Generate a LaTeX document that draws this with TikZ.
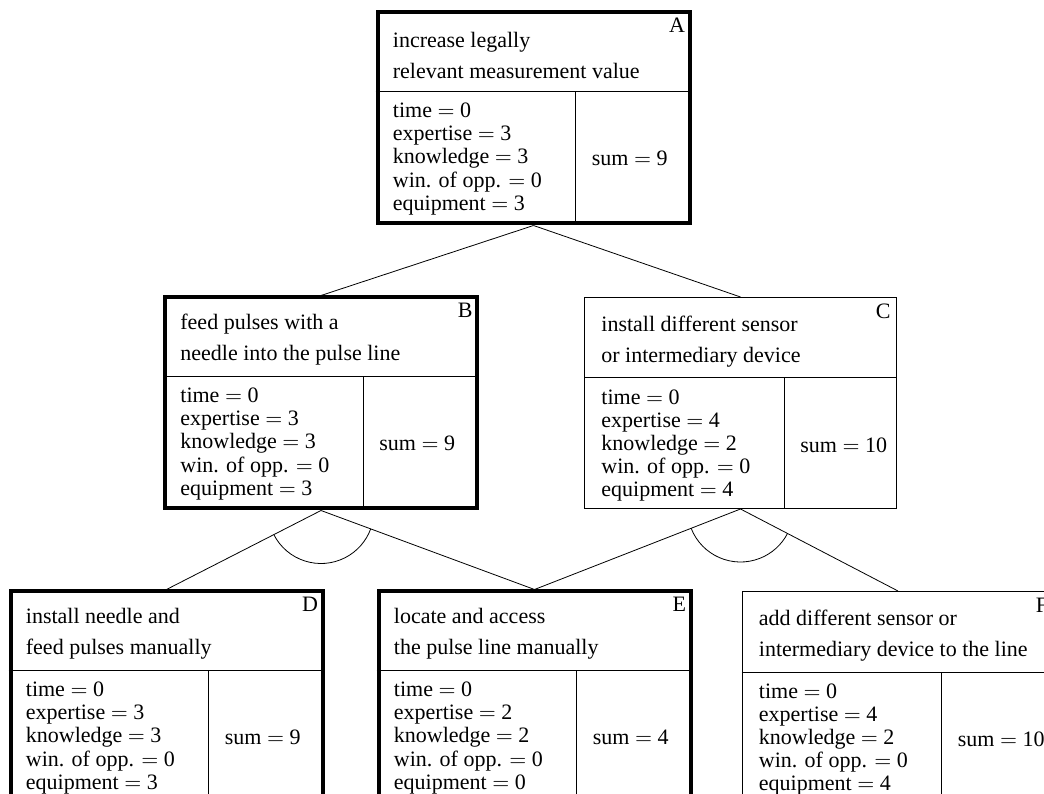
\documentclass[tikz,border=0pt]{standalone}
\usepackage{fontspec}
\setmainfont{Liberation Serif}
\usetikzlibrary{positioning,calc}

\begin{document}
\begin{tikzpicture}[
    x=0.5pt, y=0.5pt,
    goal/.style={draw, minimum width=156pt, minimum height=105.5pt, inner sep=0pt, line width=0.5pt},
    critical/.style={goal, line width=2pt},
    titletext/.style={anchor=west, align=left, inner sep=0pt, font=\fontsize{11}{15.5}\selectfont},
    valtext/.style={anchor=west, align=left, inner sep=0pt, font=\fontsize{11}{11.6}\selectfont},
    sumtext/.style={anchor=west, inner sep=0pt, font=\fontsize{11}{11.6}\selectfont},
    idtext/.style={anchor=north east, inner sep=0pt, font=\fontsize{11}{12}\selectfont},
    divider/.style={line width=0.5pt},
    edge/.style={line width=0.4pt},
    andarc/.style={line width=0.4pt}
]
    \useasboundingbox (0,0) rectangle (1044,793);
    \clip (0,0) rectangle (1044,793);

    % goals
    \node[critical] (A) at (533.5,675) {};
    \node[critical, below=35pt of A, xshift=-106.25pt] (B) {};
    \node[goal, right=52.5pt of B] (C) {};
    \node[critical, below=39.5pt of B, xshift=-77.25pt] (D) {};
    \node[critical, below=39.5pt of B, xshift=106.75pt] (E) {};
    \node[goal, right=24.5pt of E] (F) {};

    % box contents
    \foreach \n/\ttl/\ex/\kn/\eq/\sm in {
        A/{increase legally\\relevant measurement value}/3/3/3/9,
        B/{feed pulses with a\\needle into the pulse line}/3/3/3/9,
        C/{install different sensor\\or intermediary device}/4/2/4/10,
        D/{install needle and\\feed pulses manually}/3/3/3/9,
        E/{locate and access\\the pulse line manually}/2/2/0/4,
        F/{add different sensor or\\intermediary device to the line}/4/2/4/10}
    {
        \draw[divider] ([yshift=-40.5pt]\n.north west) -- ([yshift=-40.5pt]\n.north east);
        \draw[divider] ([xshift=100pt,yshift=-40.5pt]\n.north west) -- ([xshift=100pt]\n.south west);
        \node[titletext] (\n-title) at ([xshift=8.5pt,yshift=-22.25pt]\n.north west) {\ttl};
        \node[valtext] (\n-vals) at ([xshift=8.5pt,yshift=-74.25pt]\n.north west)
            {time $=$ 0\\expertise $=$ \ex\\knowledge $=$ \kn\\win. of opp. $=$ 0\\equipment $=$ \eq};
        \node[sumtext] (\n-sum) at ([xshift=108pt,yshift=-74pt]\n.north west) {sum $=$ \sm};
        \node[idtext] (\n-id) at ([xshift=-3pt,yshift=-3.5pt]\n.north east) {\n};
    }

    % connectors
    \draw[edge] (A.south) -- (B.north);
    \draw[edge] (A.south) -- (C.north);
    \draw[edge] (B.south) -- (D.north);
    \draw[edge] (B.south) -- (E.north);
    \draw[edge] (C.south) -- (E.north);
    \draw[edge] (C.south) -- (F.north);

    % AND gates
    \foreach \pa/\ca/\cb in {B/D/E, C/E/F}
        \draw[andarc] let \p1=($(\ca.north)-(\pa.south)$), \p2=($(\cb.north)-(\pa.south)$),
            \n1={atan2(\y1,\x1)}, \n2={atan2(\y2,\x2)} in
            ($(\pa.south)+(\n1:53)$) arc[start angle=\n1, end angle=\n2, radius=53];
\end{tikzpicture}
\end{document}
